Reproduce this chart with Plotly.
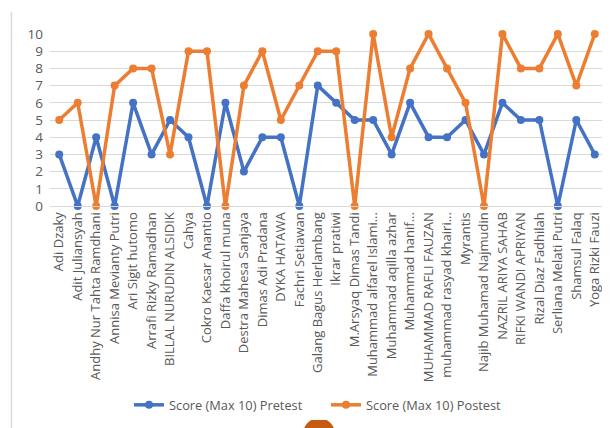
import plotly.graph_objects as go

names = [
    "Adi Dzaky", "Adit Juliansyah", "Andhy Nur Tahta Ramdhani", "Annisa Mevianty Putri",
    "Ari Sigit hutomo", "Arrafi Rizky Ramadhan", "BILLAL NURUDIN ALSIDIK", "Cahya",
    "Cokro Kaesar Anantio", "Daffa khoirul muna", "Destra Mahesa Sanjaya", "Dimas Adi Pradana",
    "DYKA HATAWA", "Fachri Setiawan", "Galang Bagus Herlambang", "Ikrar pratiwi",
    "M.Arsyaq Dimas Tandi", "Muhammad alfarel Islami…", "Muhammad aqilla azhar",
    "Muhammad hanif…", "MUHAMMAD RAFLI FAUZAN", "muhammad rasyad khairi…", "Myrantis",
    "Najib Muhamad Najmudin", "NAZRIL ARIYA SAHAB", "RIFKI WANDI APRIYAN",
    "Rizal Diaz Fadhilah", "Serliana Melati Putri", "Shamsul Falaq", "Yoga Rizki Fauzi",
]
pretest = [3, 0, 4, 0, 6, 3, 5, 4, 0, 6, 2, 4, 4, 0, 7, 6, 5, 5, 3, 6, 4, 4, 5, 3, 6, 5, 5, 0, 5, 3]
postest = [5, 6, 0, 7, 8, 8, 3, 9, 9, 0, 7, 9, 5, 7, 9, 9, 0, 10, 4, 8, 10, 8, 6, 0, 10, 8, 8, 10, 7, 10]
y_ticks = list(range(0, 11))

# page body has an 8px margin; figure coordinates = page coordinates - 8
OFF = 8
W, H = 602, 420
L, R, T, B = 42, 6, 26, 222
pw, ph = W - L - R, H - T - B

def px(x):
    return (x - OFF - L) / pw

def py(y):
    return (H - (y - OFF) - B) / ph

fig = go.Figure()
fig.add_trace(go.Scatter(
    x=names, y=pretest, mode="lines+markers", name="Score (Max 10) Pretest",
    line=dict(color="#4472C4", width=3.5), marker=dict(size=8, color="#4472C4"),
    cliponaxis=False,
))
fig.add_trace(go.Scatter(
    x=names, y=postest, mode="lines+markers", name="Score (Max 10) Postest",
    line=dict(color="#ED7D31", width=3.5), marker=dict(size=8, color="#ED7D31"),
    cliponaxis=False,
))

fig.update_layout(
    width=W, height=H,
    margin=dict(l=L, r=R, t=T, b=B, autoexpand=False),
    paper_bgcolor="white", plot_bgcolor="white",
    font=dict(family="Open Sans, Liberation Sans, sans-serif", size=12, color="#595959"),
    showlegend=True,
    legend=dict(orientation="h", x=px(326), xanchor="center", y=py(405), yanchor="middle",
                font=dict(size=12.8, color="#595959"), itemwidth=30,
                entrywidth=152, entrywidthmode="pixels"),
    xaxis=dict(type="category", tickangle=-90, showgrid=False, showline=True,
               linecolor="#D9D9D9", linewidth=1, ticks="", tickfont=dict(size=13),
               range=[-0.5, len(names) - 0.5], fixedrange=True),
    yaxis=dict(range=[0, 10], tickvals=y_ticks, showgrid=True, gridcolor="#D9D9D9",
               gridwidth=1, zeroline=False, showline=False, ticks="",
               tickfont=dict(size=13.5), ticklabelstandoff=6, fixedrange=True),
    shapes=[
        dict(type="line", xref="paper", yref="paper", x0=px(11.5), x1=px(11.5),
             y0=py(12), y1=py(440), line=dict(color="#D9D9D9", width=1.5)),
        dict(type="circle", xref="paper", yref="paper",
             x0=px(303), x1=px(335), y0=py(418), y1=py(450),
             fillcolor="#C55A11", line=dict(width=0), layer="above"),
    ],
)

fig.write_html("out.html")
